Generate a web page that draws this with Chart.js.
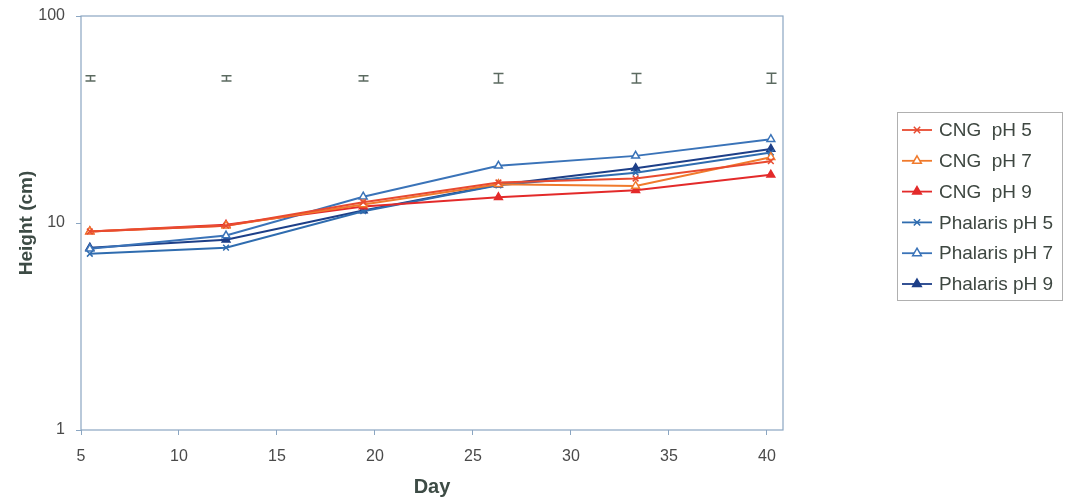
<!DOCTYPE html>
<html>
<head>
<meta charset="utf-8">
<script src="https://cdn.jsdelivr.net/npm/chart.js@4.4.1/dist/chart.umd.min.js"></script>
<style>
  html, body { margin: 0; padding: 0; background: #fff; }
  #wrap { width: 1066px; height: 502px; position: relative; }
</style>
</head>
<body>
<div id="wrap"><canvas id="growth"></canvas></div>
<script>
'use strict';

// sampling days and mean heights (cm)
const days = [5.45, 12.4, 19.4, 26.3, 33.3, 40.2];
const cngPh5 = [9.1, 9.7, 12.6, 15.7, 16.4, 19.9];
const cngPh7 = [9.1, 9.7, 12.3, 15.4, 15.1, 20.8];
const cngPh9 = [9.1, 9.8, 12.0, 13.3, 14.4, 17.1];
const phalarisPh5 = [7.1, 7.6, 11.4, 15.2, 17.5, 21.9];
const phalarisPh7 = [7.5, 8.7, 13.4, 18.9, 21.1, 25.4];
const phalarisPh9 = [7.6, 8.3, 11.5, 15.3, 18.4, 22.8];
const seriesNames = ['CNG  pH 5', 'CNG  pH 7', 'CNG  pH 9', 'Phalaris pH 5', 'Phalaris pH 7', 'Phalaris pH 9'];

// LSD bars drawn near the top of the plot
const lsdLow = [48.5, 48.5, 48.5, 47.4, 47.4, 47.3];
const lsdHigh = [51.5, 51.5, 51.5, 52.7, 52.7, 52.9];

const xTicks = [5, 10, 15, 20, 25, 30, 35, 40];
const yTicks = [1, 10, 100];

const FONT = '"Liberation Sans", Arial, sans-serif';

function series(name, values, color, style, filled) {
    return {
        label: name,
        data: values.map((v, i) => ({ x: days[i], y: v })),
        borderColor: color,
        backgroundColor: color,
        borderWidth: 2,
        tension: 0,
        pointStyle: style,
        pointRadius: style === 'crossRot' ? 4 : 4.5,
        pointBorderWidth: 1.5,
        pointBorderColor: color,
        pointBackgroundColor: filled ? color : '#ffffff'
    };
}

const plotFrame = {
    id: 'plotFrame',
    beforeDatasetsDraw(chart) {
        const { ctx, chartArea: a } = chart;
        ctx.save();
        ctx.strokeStyle = '#8ba6c2';
        ctx.lineWidth = 1.2;
        ctx.strokeRect(a.left, a.top, a.right - a.left, a.bottom - a.top);
        ctx.restore();
    }
};

const lsdBars = {
    id: 'lsdBars',
    afterDatasetsDraw(chart) {
        const { ctx, scales: { x, y } } = chart;
        ctx.save();
        ctx.strokeStyle = '#5b6a60';
        ctx.lineWidth = 1.5;
        days.forEach((d, i) => {
            const px = Math.round(x.getPixelForValue(d)) + 0.5;
            const top = y.getPixelForValue(lsdHigh[i]);
            const bot = y.getPixelForValue(lsdLow[i]);
            ctx.beginPath();
            ctx.moveTo(px, top); ctx.lineTo(px, bot);
            ctx.moveTo(px - 5, top); ctx.lineTo(px + 5, top);
            ctx.moveTo(px - 5, bot); ctx.lineTo(px + 5, bot);
            ctx.stroke();
        });
        ctx.restore();
    }
};

const sideLegend = {
    id: 'sideLegend',
    afterDraw(chart) {
        const ctx = chart.ctx;
        ctx.save();
        ctx.strokeStyle = '#b0b0b0';
        ctx.lineWidth = 1;
        ctx.strokeRect(897.5, 112.5, 165, 188);
        chart.data.datasets.forEach((ds, i) => {
            const y = 130 + i * 30.8;
            ctx.strokeStyle = ds.borderColor;
            ctx.lineWidth = 1.8;
            ctx.beginPath();
            ctx.moveTo(902, y); ctx.lineTo(932, y);
            ctx.stroke();
            ctx.fillStyle = ds.pointBackgroundColor;
            ctx.strokeStyle = ds.pointBorderColor;
            ctx.lineWidth = 1.5;
            Chart.helpers.drawPoint(ctx, {
                pointStyle: ds.pointStyle,
                radius: ds.pointRadius + 0.5,
                rotation: 0,
                borderWidth: 1.5
            }, 917, y);
            ctx.fillStyle = '#3e4741';
            ctx.font = '19px ' + FONT;
            ctx.textBaseline = 'middle';
            ctx.textAlign = 'left';
            ctx.fillText(ds.label, 939, y + 1);
        });
        ctx.restore();
    }
};

const config = {
    type: 'line',
    data: {
        datasets: [
            series(seriesNames[0], cngPh5, '#e84a30', 'crossRot', false),
            series(seriesNames[1], cngPh7, '#f07a2c', 'triangle', false),
            series(seriesNames[2], cngPh9, '#e32a2a', 'triangle', true),
            series(seriesNames[3], phalarisPh5, '#2f6caf', 'crossRot', false),
            series(seriesNames[4], phalarisPh7, '#3a73b8', 'triangle', false),
            series(seriesNames[5], phalarisPh9, '#1d3f88', 'triangle', true)
        ]
    },
    options: {
        responsive: true,
        maintainAspectRatio: false,
        animation: false,
        layout: {
            padding: { left: 0, right: 283, top: 16, bottom: 0 }
        },
        plugins: {
            legend: { display: false },
            tooltip: { enabled: false }
        },
        scales: {
            x: {
                type: 'linear',
                min: 5,
                max: 40.82,
                afterBuildTicks: s => { s.ticks = xTicks.map(v => ({ value: v })); },
                afterFit: s => { s.height = 72; },
                grid: { drawOnChartArea: false, drawTicks: true, tickLength: 5, color: '#8ba6c2' },
                border: { display: false },
                ticks: {
                    color: '#4a4a4a',
                    padding: 12,
                    maxRotation: 0,
                    font: { family: FONT, size: 16 }
                },
                title: {
                    display: true,
                    text: 'Day',
                    color: '#3d4b45',
                    padding: { top: 0, bottom: 3 },
                    font: { family: FONT, size: 20, weight: 'bold' }
                }
            },
            y: {
                type: 'logarithmic',
                min: 1,
                max: 100,
                afterBuildTicks: s => { s.ticks = yTicks.map(v => ({ value: v })); },
                afterFit: s => {
                    s.width = 81;
                    s.paddingTop = 0;
                    s.paddingBottom = 0;
                },
                grid: { drawOnChartArea: false, drawTicks: true, tickLength: 5, color: '#8ba6c2' },
                border: { display: false },
                ticks: {
                    color: '#4a4a4a',
                    padding: 11,
                    font: { family: FONT, size: 16 },
                    callback: v => String(v)
                },
                title: {
                    display: true,
                    text: 'Height (cm)',
                    color: '#3d4b45',
                    padding: { top: 15, bottom: 0 },
                    font: { family: FONT, size: 19, weight: 'bold' }
                }
            }
        }
    },
    plugins: [plotFrame, lsdBars, sideLegend]
};

let growthChart = new Chart(
    document.getElementById('growth'),
    config
);
</script>
</body>
</html>
